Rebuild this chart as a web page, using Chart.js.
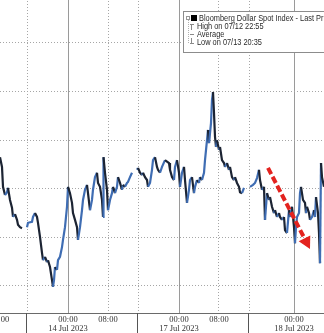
<!DOCTYPE html>
<html>
<head>
<meta charset="utf-8">
<script src="https://cdn.jsdelivr.net/npm/chart.js@4.4.1/dist/chart.umd.min.js"></script>
<style>
  html, body { margin: 0; padding: 0; background: #fff; width: 324px; height: 333px; overflow: hidden; position: relative; }
  #wrap { position: absolute; left: -30px; top: -20px; width: 390px; height: 356px; }
</style>
</head>
<body>
<div id="wrap"><canvas id="c"></canvas></div>
<script>
// session hours, 0 = 14 Jul 00:00 (weekend and off hours squeezed out like the terminal does)
const hours = [
  -13.6, -13.2, -13.0, -12.6, -12.2, -12.0, -11.6, -11.2, -11.0, -10.6,
  -10.2, -10.0, -9.6, -9.2, -8.7, -8.2, -8.0, -7.2, -7.0, -6.6,
  -6.2, -6.0, -5.6, -5.2, -5.0, -4.6, -4.2, -4.0, -3.6, -3.2,
  -3.0, -2.8, -2.6, -2.2, -2.0, -1.6, -1.2, -1.0, -0.6, -0.2,
  0, 0.4, 0.8, 1.0, 1.4, 1.8, 2.0, 2.4, 2.8, 3.0,
  3.4, 3.8, 4.0, 4.4, 4.8, 5.0, 5.4, 5.8, 6.0, 6.4,
  6.8, 7.0, 7.1, 7.4, 7.8, 8.0, 8.4, 8.8, 9.0, 9.4,
  9.8, 10.0, 10.4, 10.8, 11.0, 11.4, 11.8, 12.0, 12.4, 12.8,
  13.3, 13.8, 14.0, 14.4, 14.8, 15.0, 15.4, 15.8, 16.0, 16.4,
  16.8, 17.0, 17.4, 17.8, 18.0, 18.4, 18.8, 19.4, 20.2, 20.4,
  20.8, 21.2, 21.4, 21.8, 22.2, 22.4, 22.8, 23.2, 23.4, 23.8,
  24.2, 24.4, 24.8, 25.2, 25.4, 25.8, 26.2, 26.4, 26.8, 27.2,
  27.4, 27.8, 28.0, 28.2, 28.6, 28.8, 29.0, 29.2, 29.4, 29.6,
  29.8, 30.2, 30.4, 30.8, 31.2, 31.4, 31.8, 32.2, 32.4, 32.8,
  33.2, 33.4, 33.8, 34.2, 34.4, 34.8, 35.2, 35.8, 36.4, 37.0,
  37.4, 37.8, 38.2, 38.4, 38.8, 39.2, 39.4, 39.8, 40.2, 40.4,
  40.8, 41.2, 41.4, 41.8, 42.2, 42.4, 42.8, 43.2, 43.4, 43.8,
  44.2, 44.4, 44.8, 45.2, 45.4, 45.6, 45.8, 46.2, 46.4, 46.6,
  47.0, 47.4, 47.6, 47.8, 48.2, 48.4, 48.8, 49.2, 49.4, 49.6,
  50.0, 50.2, 50.4, 50.6, 50.8, 51.2
];
const price = [
  1196.65, 1196.45, 1196.04, 1195.87, 1195.93, 1196.02, 1195.77, 1195.61, 1195.42, 1195.48,
  1195.36, 1195.26, 1195.21, 1195.19, null, 1195.21, 1195.30, 1195.32, 1195.42, 1195.50,
  1195.42, 1195.30, 1195.01, 1194.68, 1194.53, 1194.60, 1194.49, 1194.53, 1194.39, 1194.12,
  1193.98, 1194.12, 1194.39, 1194.33, 1194.53, 1194.60, 1194.80, 1194.95, 1195.21, 1195.63,
  1196.04, 1195.91, 1195.71, 1195.50, 1195.36, 1195.21, 1194.95, 1195.21, 1195.56, 1195.77,
  1195.98, 1196.08, 1195.91, 1195.56, 1195.77, 1195.98, 1196.24, 1196.33, 1196.12, 1196.04,
  1195.77, 1195.42, 1196.65, 1196.33, 1195.98, 1195.56, 1195.77, 1195.91, 1196.04, 1195.91,
  1196.04, 1196.24, 1196.12, 1195.98, 1196.08, 1196.04, 1196.12, 1196.14, 1196.24, 1196.33,
  null, 1196.39, 1196.43, 1196.33, 1196.28, 1196.33, 1196.24, 1196.18, 1196.04, 1196.12,
  1196.39, 1196.59, 1196.65, 1196.45, 1196.39, 1196.33, 1196.45, 1196.59, 1196.53, 1196.39,
  1196.24, 1196.18, 1196.45, 1196.59, 1196.33, 1196.04, 1196.33, 1196.45, 1196.18, 1195.71,
  1195.98, 1196.18, 1196.24, 1195.91, 1196.04, 1196.18, 1196.12, 1196.24, 1196.18, 1196.33,
  1196.59, 1197.00, 1197.21, 1196.94, 1197.35, 1197.83, 1197.99, 1197.56, 1197.07, 1196.86,
  1197.00, 1196.80, 1196.86, 1196.59, 1196.53, 1196.45, 1196.53, 1196.39, 1196.45, 1196.24,
  1196.18, 1196.24, 1196.12, 1196.04, 1195.93, 1195.91, 1196.02, null, 1196.04, 1196.08,
  1196.12, 1196.22, 1196.39, 1196.18, 1195.98, 1196.04, 1195.36, 1195.91, 1195.77, 1195.83,
  1195.63, 1195.50, 1195.56, 1195.42, 1195.50, 1195.42, 1195.36, 1195.42, 1195.15, 1195.09,
  1195.56, 1195.42, 1195.63, 1195.21, 1194.88, 1195.21, 1195.42, 1195.50, 1195.91, 1196.04,
  1195.77, 1195.71, 1195.50, 1195.63, 1195.50, 1195.36, 1195.42, 1195.56, 1195.42, 1195.83,
  1195.50, 1195.09, 1194.47, 1196.53, 1196.24, 1196.04
];

const tickHours = [-13.7, -8.2, 0, 8, 14.2, 22.2, 30.2, 36.2, 45.2];
const tickText = [['08:00'], [''], ['00:00', '14 Jul 2023'], ['08:00'], [''],
                  ['00:00', '17 Jul 2023'], ['08:00'], [''], ['00:00', '18 Jul 2023']];
const midnightHours = [0, 22.2, 45.2];
const dottedHours = [-8.2, 8, 14.2, 30.2, 36.2];
const sessionBreaks = [-8.4, 13.8, 36];
const gridLevels = [1194, 1195, 1196, 1197, 1198, 1199, 1200];

const legendLines = ['Bloomberg Dollar Spot Index - Last Price', 'High on 07/12 22:55', 'Average', 'Low on 07/13 20:35'];

// red trend arrow drawn on top (data units)
const arrowFrom = { x: 40.0, y: 1196.43 };
const arrowTo = { x: 48.4, y: 1194.76 };

const points = hours.map((h, i) => ({ x: h, y: price[i] }));

const xMin = -19.6, xMax = 58.4;

function drawLegend(ctx) {
  // box sits in the top right corner, cut by the window edge
  const L = 213, T = 31;
  ctx.save();
  ctx.fillStyle = '#fff';
  ctx.fillRect(L, T, 190, 41);
  ctx.strokeStyle = '#8c8c8c';
  ctx.lineWidth = 1;
  ctx.strokeRect(L + 0.5, T + 0.5, 190, 41);

  ctx.strokeStyle = '#b0b0b0';
  ctx.setLineDash([1, 1]);
  ctx.beginPath(); ctx.moveTo(L + 5.5, T + 9); ctx.lineTo(L + 5.5, T + 33); ctx.stroke();
  ctx.setLineDash([]);
  ctx.fillRect.call(ctx, 0, 0, 0, 0);
  ctx.strokeStyle = '#999';
  ctx.fillStyle = '#fff';
  ctx.fillRect(L + 3, T + 5, 4, 4);
  ctx.strokeRect(L + 3.5, T + 5.5, 3, 3);
  ctx.fillStyle = '#000';
  ctx.fillRect(L + 8, T + 4, 6, 6);

  ctx.strokeStyle = '#8a8a8a';
  ctx.beginPath();
  ctx.moveTo(L + 7, T + 13.5); ctx.lineTo(L + 11, T + 13.5);
  ctx.moveTo(L + 8.5, T + 13.5); ctx.lineTo(L + 8.5, T + 19);
  ctx.moveTo(L + 7, T + 23.5); ctx.lineTo(L + 11, T + 23.5);
  ctx.moveTo(L + 8.5, T + 27); ctx.lineTo(L + 8.5, T + 32.5);
  ctx.moveTo(L + 7, T + 32.5); ctx.lineTo(L + 11, T + 32.5);
  ctx.stroke();

  ctx.fillStyle = '#2a2a2a';
  ctx.font = '8.6px "Liberation Sans", Arial, sans-serif';
  ctx.textBaseline = 'middle';
  const rowsY = [7.5, 16, 23.5, 31.5];
  legendLines.forEach((txt, i) => {
    ctx.save();
    ctx.translate(L + (i === 0 ? 16 : 14), T + rowsY[i]);
    ctx.scale(0.86, 1);
    ctx.fillText(txt, 0, 0);
    ctx.restore();
  });
  ctx.restore();
}

const extras = {
  id: 'extras',
  afterDraw(chart) {
    const { ctx, chartArea } = chart;
    const x = chart.scales.x, y = chart.scales.y;
    ctx.save();
    // long ticks under the axis at session breaks
    ctx.strokeStyle = '#555';
    ctx.lineWidth = 1;
    sessionBreaks.forEach(h => {
      const px = Math.round(x.getPixelForValue(h)) + 0.5;
      ctx.beginPath();
      ctx.moveTo(px, chartArea.bottom);
      ctx.lineTo(px, chartArea.bottom + 30);
      ctx.stroke();
    });
    // dashed red arrow
    const x0 = x.getPixelForValue(arrowFrom.x), y0 = y.getPixelForValue(arrowFrom.y);
    const x1 = x.getPixelForValue(arrowTo.x), y1 = y.getPixelForValue(arrowTo.y);
    const ang = Math.atan2(y1 - y0, x1 - x0);
    const head = 12, half = 6.5;
    const bx = x1 - Math.cos(ang) * head, by = y1 - Math.sin(ang) * head;
    ctx.strokeStyle = '#e3231f';
    ctx.fillStyle = '#e3231f';
    ctx.lineWidth = 4;
    ctx.setLineDash([7, 3]);
    ctx.beginPath();
    ctx.moveTo(x0, y0);
    ctx.lineTo(bx, by);
    ctx.stroke();
    ctx.setLineDash([]);
    ctx.beginPath();
    ctx.moveTo(x1, y1);
    ctx.lineTo(bx + Math.sin(ang) * half, by - Math.cos(ang) * half);
    ctx.lineTo(bx - Math.sin(ang) * half, by + Math.cos(ang) * half);
    ctx.closePath();
    ctx.fill();
    ctx.restore();
    drawLegend(ctx);
  }
};

new Chart(document.getElementById('c'), {
  type: 'line',
  data: {
    datasets: [{
      label: 'Bloomberg Dollar Spot Index - Last Price',
      data: points,
      borderColor: '#24385c',
      borderWidth: 2.2,
      pointRadius: 0,
      tension: 0,
      spanGaps: false,
      segment: {
        borderColor: c => c.p1.parsed.y > c.p0.parsed.y ? '#3f6db3' : '#1c2433'
      }
    }]
  },
  options: {
    responsive: true,
    maintainAspectRatio: false,
    animation: false,
    layout: { padding: 0 },
    plugins: { legend: { display: false }, tooltip: { enabled: false } },
    scales: {
      x: {
        type: 'linear', min: xMin, max: xMax,
        afterBuildTicks: s => { s.ticks = tickHours.map(v => ({ value: v })); },
        ticks: {
          autoSkip: false, maxRotation: 0, padding: 3, color: '#333',
          font: { family: 'Liberation Serif', size: 8.5, lineHeight: 1.0 },
          callback: (v, i) => tickText[i]
        },
        grid: {
          drawTicks: false, lineWidth: 1,
          color: c => midnightHours.includes(c.tick && c.tick.value) ? '#9a9a9a' : 'rgba(0,0,0,0)'
        },
        border: { color: '#6a6a6a', width: 1 }
      },
      x2: {
        type: 'linear', position: 'top', min: xMin, max: xMax,
        afterBuildTicks: s => { s.ticks = dottedHours.map(v => ({ value: v })); },
        ticks: { display: false },
        grid: { drawTicks: false, color: '#a6a6a6', lineWidth: 1 },
        border: { display: false, dash: [1, 2] }
      },
      y: {
        min: 1193.444, max: 1200.296,
        afterBuildTicks: s => { s.ticks = gridLevels.map(v => ({ value: v })); },
        ticks: { display: false },
        grid: { drawTicks: false, color: '#a6a6a6', lineWidth: 1 },
        border: { display: false, dash: [1, 2] }
      }
    }
  },
  plugins: [extras]
});
</script>
</body>
</html>
